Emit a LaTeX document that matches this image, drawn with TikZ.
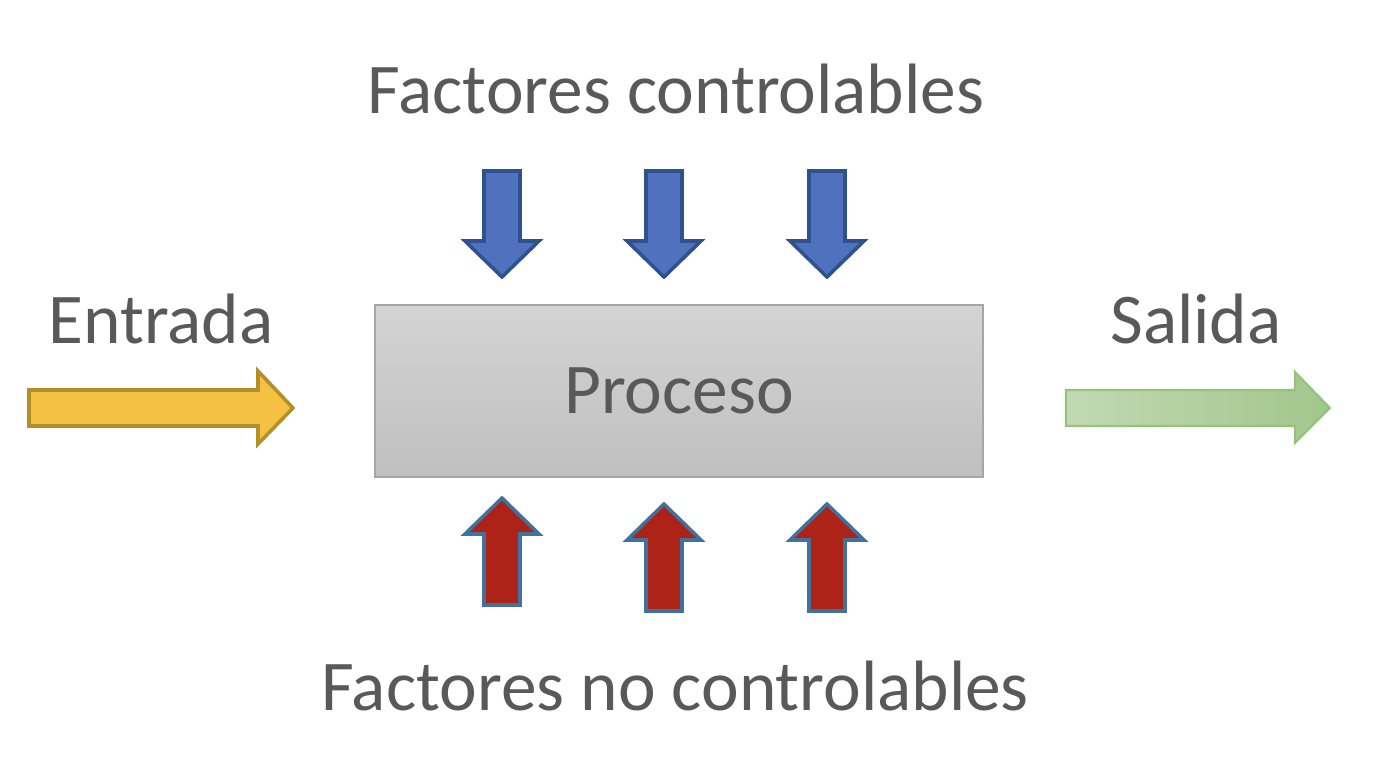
\documentclass[tikz,border=0pt]{standalone}
\usepackage{fontspec}
\setmainfont{Carlito}
\usetikzlibrary{
  positioning,
}
\definecolor{txtgray}{HTML}{595959}
\definecolor{ctrlfill}{HTML}{4F71BE}
\definecolor{ctrldraw}{HTML}{2F528F}
\definecolor{noctrlfill}{HTML}{AE2318}
\definecolor{noctrldraw}{HTML}{41719C}
\definecolor{infill}{HTML}{F5C142}
\definecolor{indraw}{HTML}{B38F2A}
\definecolor{outleft}{HTML}{C2D9B3}
\definecolor{outright}{HTML}{A1C68B}
\definecolor{outdraw}{HTML}{95C27E}
\tikzset{
  label text/.style={text=txtgray, font=\fontsize{20.3}{24}\selectfont, inner sep=0pt},
  process box/.style={draw=black!35, top color=black!17, bottom color=black!25,
    minimum width=6.08cm, minimum height=1.72cm, inner sep=0pt},
  ctrl arrow/.style={fill=ctrlfill, draw=ctrldraw, line width=1pt, line join=miter},
  noctrl arrow/.style={fill=noctrlfill, draw=noctrldraw, line width=1pt, line join=miter},
}

\begin{document}
\begin{tikzpicture}
\useasboundingbox (0,0) rectangle (13.9,7.64);
% box and texts
\node[process box, label text] (proceso) at (6.79,3.73) {Proceso};
\node[label text, anchor=base] (ctrl) at (6.76,6.51) {Factores controlables};
\node[label text, anchor=base] (noctrl) at (6.75,0.54) {Factores no controlables};
\node[label text, anchor=base] (entrada) at (1.61,4.21) {Entrada};
\node[label text, anchor=base] (salida) at (11.96,4.21) {Salida};
% input and output
\draw[fill=infill, draw=indraw, line width=1pt]
  (0.29,3.38) -- (0.29,3.74) -- (2.58,3.74) -- (2.58,3.93) -- (2.93,3.56)
  -- (2.58,3.20) -- (2.58,3.38) -- cycle;
\draw[left color=outleft, right color=outright, draw=outdraw, line width=0.6pt]
  (10.66,3.38) -- (10.66,3.74) -- (12.95,3.74) -- (12.95,3.92) -- (13.30,3.56)
  -- (12.95,3.21) -- (12.95,3.38) -- cycle;
% controllable factors
\foreach \cx in {5.02,6.64,8.27} {
  \draw[ctrl arrow] (\cx-0.18,5.93) -- (\cx+0.18,5.93) -- (\cx+0.18,5.23)
    -- (\cx+0.37,5.23) -- (\cx,4.87) -- (\cx-0.37,5.23) -- (\cx-0.18,5.23) -- cycle;
}
% uncontrollable factors
\foreach \cx/\dy in {5.02/0,6.64/-0.06,8.27/-0.06} {
  \draw[noctrl arrow, yshift=\dy cm] (\cx-0.18,1.59) -- (\cx+0.18,1.59) -- (\cx+0.18,2.30)
    -- (\cx+0.37,2.30) -- (\cx,2.66) -- (\cx-0.37,2.30) -- (\cx-0.18,2.30) -- cycle;
}
\end{tikzpicture}
\end{document}
